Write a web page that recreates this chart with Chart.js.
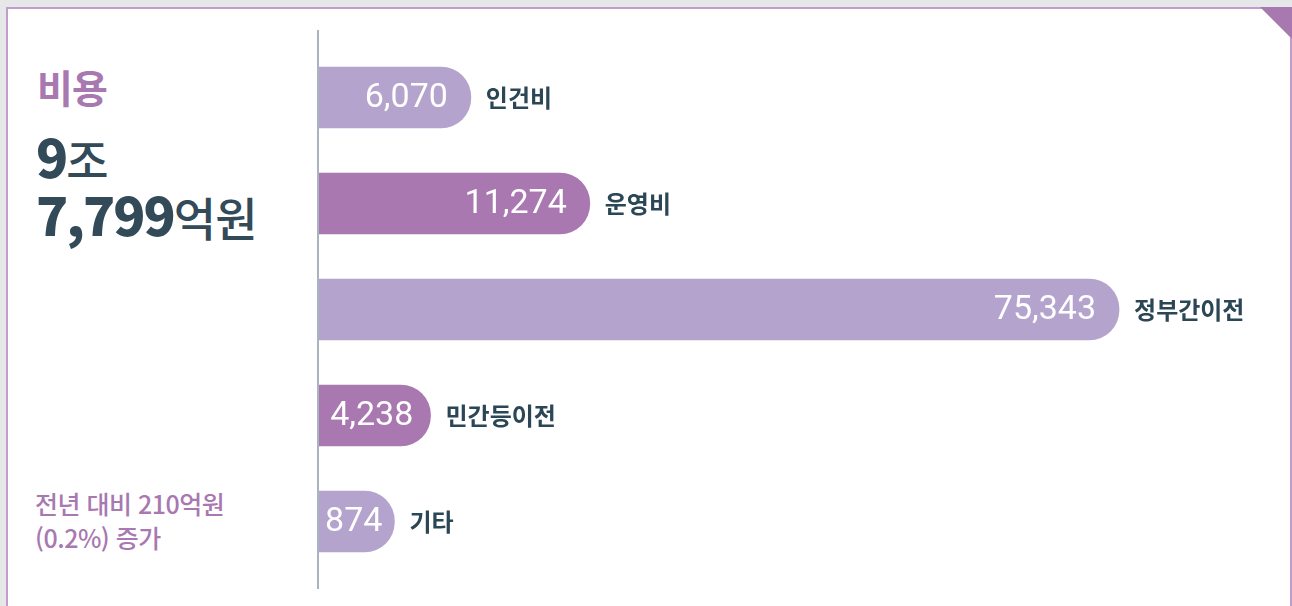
<!DOCTYPE html>
<html lang="ko">
<head>
<meta charset="utf-8">
<title>비용</title>
<script src="https://cdn.jsdelivr.net/npm/chart.js@4.4.1/dist/chart.umd.min.js"></script>
<style>
    html, body {
        margin: 0;
        padding: 0;
        width: 1292px;
        height: 606px;
        overflow: hidden;
        background: #e6e7e9;
        font-family: "Noto Sans CJK KR", "Noto Sans", sans-serif;
    }
    .card {
        position: absolute;
        left: 6px;
        top: 7px;
        width: 1282px;
        height: 640px;
        background: #fff;
        border: 2px solid #c29ccb;
    }
    .corner {
        position: absolute;
        right: 0;
        top: 7px;
        width: 0;
        height: 0;
        border-top: 32px solid #a878b1;
        border-left: 32px solid transparent;
    }
    .title {
        position: absolute;
        left: 37px;
        top: 67px;
        font-size: 39px;
        font-weight: 700;
        color: #a878b1;
        letter-spacing: -1px;
        line-height: 1;
    }
    .total {
        position: absolute;
        left: 36px;
        top: 126px;
        color: #334a58;
        letter-spacing: -2px;
    }
    .total div {
        height: 58px;
        line-height: 58px;
        white-space: nowrap;
    }
    .total b {
        font-size: 53px;
        font-weight: 900;
    }
    .total span {
        font-size: 46px;
        font-weight: 500;
        letter-spacing: -1px;
    }
    .note {
        position: absolute;
        left: 35px;
        top: 486px;
        font-size: 25px;
        font-weight: 500;
        color: #a878b1;
        line-height: 34px;
        letter-spacing: -0.5px;
        white-space: nowrap;
    }
    #chartBox {
        position: absolute;
        left: 300px;
        top: 0;
        width: 992px;
        height: 606px;
    }
</style>
</head>
<body>
<div class="card"></div>
<div class="corner"></div>

<div class="title">비용</div>
<div class="total">
    <div><b>9</b><span>조</span></div>
    <div><b>7,799</b><span>억원</span></div>
</div>
<div class="note">전년 대비 210억원<br>(0.2%) 증가</div>

<div id="chartBox"><canvas id="costChart"></canvas></div>

<script>
// 비용 항목 (억원)
const categories = ['인건비', '운영비', '정부간이전', '민간등이전', '기타'];
const amounts = [6070, 11274, 75343, 4238, 874];
// bar lengths as drawn in the picture (not proportional), in the same units as the axis
const barLengths = [14300, 25500, 75343, 10500, 7100];
const barColors = ['#b4a3cd', '#a978b1', '#b4a3cd', '#a978b1', '#b4a3cd'];

const fmt = n => n.toLocaleString('en-US');

const barLabels = {
    id: 'barLabels',
    afterDatasetsDraw(chart) {
        const { ctx } = chart;
        const meta = chart.getDatasetMeta(0);
        ctx.save();
        ctx.textBaseline = 'middle';
        meta.data.forEach((bar, i) => {
            const left = bar.base;
            const right = bar.x;
            const y = bar.y + 1;

            // amount, white, inside the bar
            ctx.font = '400 34px Roboto';
            ctx.fillStyle = '#ffffff';
            ctx.textAlign = 'right';
            const text = fmt(amounts[i]);
            const tw = ctx.measureText(text).width;
            const pad = Math.min(23, (right - left - tw) / 2 + 3);
            ctx.fillText(text, right - pad, y);

            // category name, outside
            ctx.font = '700 24px "Noto Sans CJK KR"';
            ctx.fillStyle = '#2b4756';
            ctx.textAlign = 'left';
            ctx.fillText(categories[i], right + 15, y - 1);
        });
        ctx.restore();
    }
};

const axisLine = {
    id: 'axisLine',
    beforeDatasetsDraw(chart) {
        const { ctx, chartArea } = chart;
        ctx.save();
        ctx.fillStyle = '#a9b4bf';
        ctx.fillRect(chartArea.left - 2, 30, 2, 559);
        ctx.restore();
    }
};

new Chart(document.getElementById('costChart'), {
    type: 'bar',
    data: {
        labels: categories,
        datasets: [{
            data: barLengths,
            backgroundColor: barColors,
            borderRadius: 30,
            borderSkipped: 'start',
            barThickness: 61
        }]
    },
    options: {
        indexAxis: 'y',
        responsive: true,
        maintainAspectRatio: false,
        animation: false,
        layout: {
            padding: { left: 19, right: 123.5, top: 44.5, bottom: 31.5 }
        },
        scales: {
            x: { display: false, min: 0, max: 80000 },
            y: { display: false }
        },
        plugins: {
            legend: { display: false },
            tooltip: { enabled: false }
        }
    },
    plugins: [axisLine, barLabels]
});
</script>
</body>
</html>
